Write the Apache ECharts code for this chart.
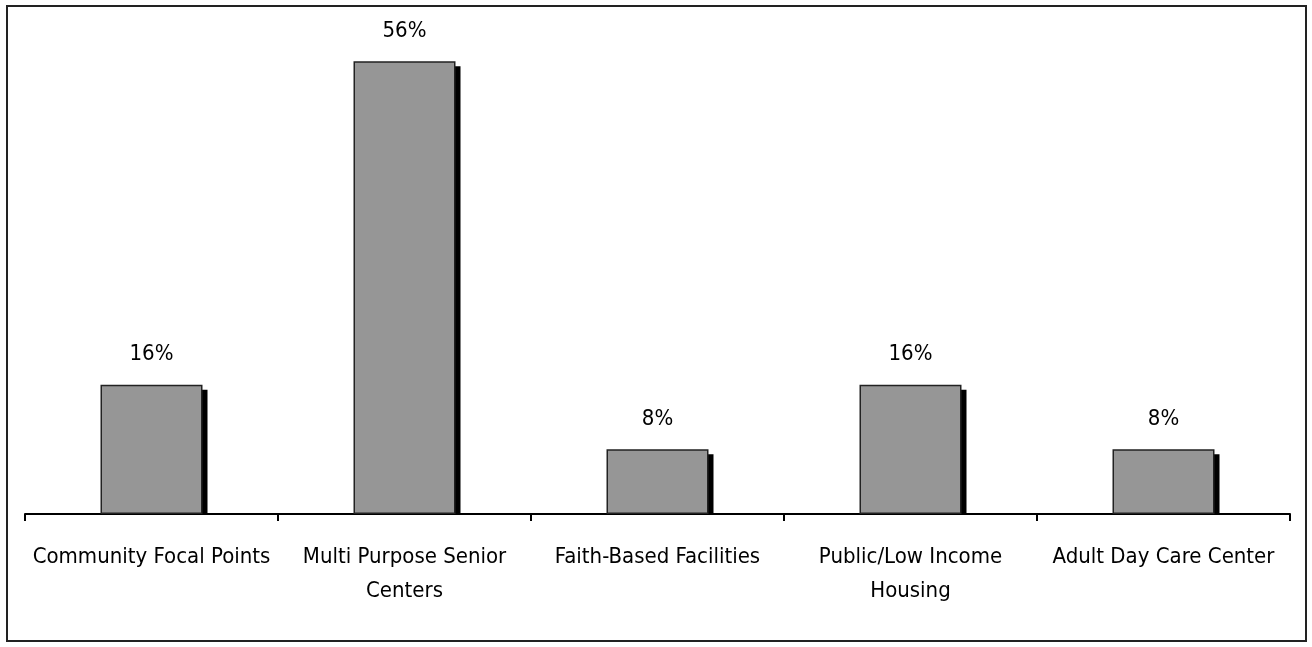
<!DOCTYPE html>
<html>
<head>
<meta charset="utf-8">
<script src="https://cdn.jsdelivr.net/npm/echarts@6/dist/echarts.min.js"></script>
<style>
  html, body { margin: 0; padding: 0; background: #fff; }
  #chart { width: 1312px; height: 647px; }
</style>
</head>
<body>
<div id="chart"></div>
<script>
// Share of sites by location type (percent)
const categories = [
  'Community Focal Points',
  'Multi Purpose Senior\nCenters',
  'Faith-Based Facilities',
  'Public/Low Income\nHousing',
  'Adult Day Care Center'
];
const values = [16, 56, 8, 16, 8];

const FONT = "'DejaVu Sans Condensed', 'Liberation Sans Narrow', sans-serif";
const BAR_W = 102;
const SHADOW = 5;

const chart = echarts.init(document.getElementById('chart'), null, { renderer: 'canvas' });

chart.setOption({
  animation: false,
  backgroundColor: '#ffffff',
  graphic: [{
    type: 'rect',
    shape: { x: 7, y: 6, width: 1299, height: 635 },
    style: { fill: 'none', stroke: '#222', lineWidth: 2 },
    silent: true,
    z: -10
  }],
  grid: { left: 25, right: 22, top: 29, bottom: 133, containLabel: false },
  xAxis: {
    type: 'category',
    data: categories,
    axisLine: { show: true, lineStyle: { color: '#000', width: 2 } },
    axisTick: { show: true, alignWithLabel: false, length: 7, lineStyle: { color: '#000', width: 2 } },
    axisLabel: {
      color: '#000',
      fontFamily: FONT,
      fontSize: 22,
      lineHeight: 34,
      margin: 26,
      interval: 0
    }
  },
  yAxis: {
    type: 'value',
    min: 0,
    max: 60,
    show: false,
    splitLine: { show: false }
  },
  series: [
    {
      // drop shadow behind each bar, stopping at the baseline
      type: 'custom',
      z: 1,
      silent: true,
      data: values.map((v, i) => [i, v]),
      renderItem: function (params, api) {
        const top = api.coord([api.value(0), api.value(1)]);
        const base = api.coord([api.value(0), 0]);
        const x = top[0] - BAR_W / 2 + SHADOW;
        const y = top[1] + SHADOW;
        return {
          type: 'rect',
          shape: { x: x, y: y, width: BAR_W, height: base[1] - y },
          style: { fill: '#000' }
        };
      }
    },
    {
      type: 'bar',
      z: 2,
      data: values,
      barWidth: BAR_W,
      itemStyle: { color: '#969696', borderColor: '#222', borderWidth: 1.5 },
      label: {
        show: true,
        position: 'top',
        distance: 19,
        color: '#000',
        fontFamily: FONT,
        fontSize: 22,
        formatter: p => p.value + '%'
      }
    }
  ]
});
</script>
</body>
</html>
